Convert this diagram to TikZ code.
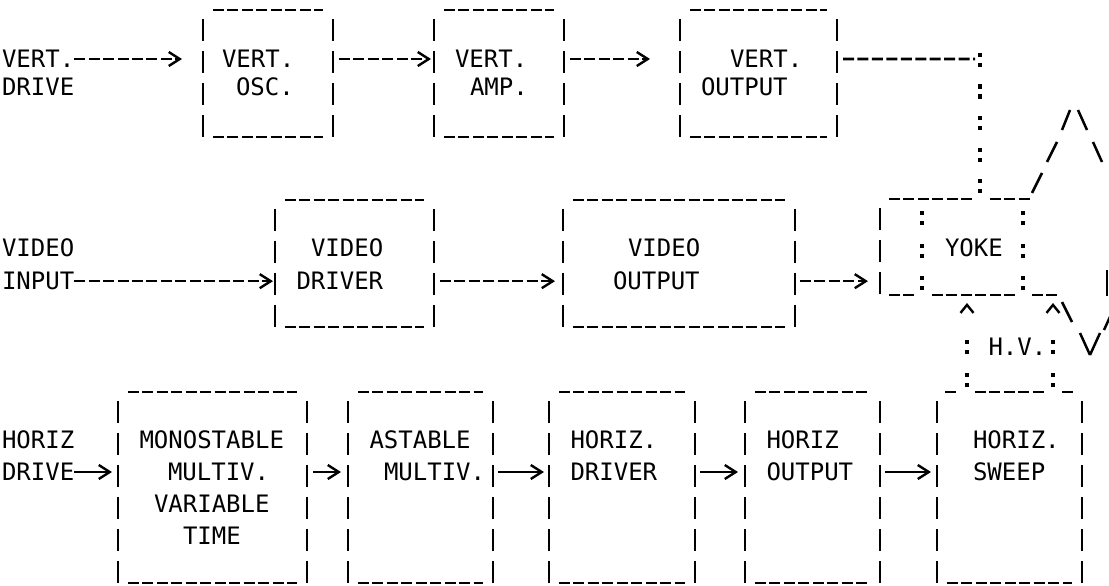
\documentclass[tikz,border=0pt]{standalone}
\usepackage{fontspec}
\newfontfamily\asc{DejaVu Sans Mono}
\usetikzlibrary{arrows.meta,calc}
\tikzset{
  lbl/.style={font=\asc\fontsize{24pt}{24pt}\selectfont, inner sep=0pt, outer sep=0pt, anchor=base west},
  boxn/.style={draw=none, rectangle, inner sep=0pt, outer sep=0pt},
  hline/.style={line width=2.8pt, dash pattern=on 11pt off 3.45pt},
  vline/.style={line width=2.8pt, dash pattern=on 22pt off 10pt},
  tipr/.style={-{Straight Barb[length=11pt,width=14pt,line width=2.4pt]}},
  dconn/.style={line width=2.6pt, dash pattern=on 11pt off 3.45pt, tipr},
  sconn/.style={line width=2.6pt, tipr},
  colonv/.style={line width=4.2pt, dash pattern=on 4.2pt off 5.8pt on 4.2pt off 17.3pt},
  coloni/.style={line width=4.2pt, dash pattern=on 4.2pt off 5.8pt on 4.2pt off 18.3pt},
  hvconn/.style={line width=4.2pt, dash pattern=on 4.2pt off 5.8pt on 4.2pt off 18.8pt on 4.2pt off 5.8pt on 4.2pt off 100pt,
     dash phase=142pt, -{Straight Barb[length=8pt,width=13pt,line width=2.4pt]}},
  slash/.style={line width=2.5pt},
}
\newcommand\mkbox[5]{\node[boxn, minimum width={#3-#2}, minimum height={#5-#4}] (#1) at ({(#2+#3)/2},{(#4+#5)/2}) {};}
\newcommand\sides[1]{%
  \draw[vline] ([yshift=-9pt]#1.north west) -- (#1.south west);
  \draw[vline] ([yshift=-9pt]#1.north east) -- (#1.south east);}
\newcommand\tops[1]{%
  \draw[hline] ([xshift=10pt]#1.north west) -- ([xshift=-10pt]#1.north east);}
\newcommand\bots[1]{%
  \draw[hline] ([xshift=10pt]#1.south west) -- ([xshift=-10pt]#1.south east);}
\begin{document}
\begin{tikzpicture}[x=1pt,y=-1pt]
\useasboundingbox[fill=white] (0,0) rectangle (1109,586);
% ---------- boxes ----------
\mkbox{b1}{203}{333}{10}{137}
\mkbox{b2}{434}{564}{10}{137}
\mkbox{b3}{680}{837}{10}{137}
\mkbox{b4}{275}{434}{200}{327}
\mkbox{b5}{563}{795}{200}{327}
\mkbox{b6}{118}{307}{392}{583}
\mkbox{b7}{348}{493}{392}{583}
\mkbox{b8}{549}{695}{392}{583}
\mkbox{b9}{745}{880}{392}{583}
\mkbox{b10}{937}{1082}{392}{583}
\mkbox{yoke}{880}{1045}{199}{295}
\foreach \b in {b1,b2,b3,b4,b5,b6,b7,b8,b9,b10}{\sides{\b}\bots{\b}}
\foreach \b in {b1,b2,b3,b4,b5,b6,b7,b8,b9}{\tops{\b}}
% top of horiz sweep, broken by the colons
\draw[hline] (945,392) -- (959,392);
\draw[hline] (975,392) -- (1046,392);
\draw[hline] (1062,392) -- (1074,392);
% ---------- yoke ----------
\draw[vline] ([yshift=-9pt]yoke.north west) -- (yoke.south west);
\draw[hline] (889,199) -- (973,199);
\draw[hline] (990,199) -- (1032,199);
\draw[hline] (889,295) -- (916,295);
\draw[hline] (932,295) -- (1016,295);
\draw[hline] (1032,295) -- (1058,295);
\draw[coloni] (922,211) -- (922,291);
\draw[coloni] (1023,211) -- (1023,291);
% ---------- labels ----------
\node[lbl] (vd1) at (2,67.75) {VERT.};
\node[lbl] (vd2) at (2,95.75) {DRIVE};
\node[lbl] (o1) at (222,67.75) {VERT.};
\node[lbl] (o2) at (236,95.75) {OSC.};
\node[lbl] (a1) at (455,67.75) {VERT.};
\node[lbl] (a2) at (470,95.75) {AMP.};
\node[lbl] (p1) at (730,67.75) {VERT.};
\node[lbl] (p2) at (701,95.75) {OUTPUT};
\node[lbl] (vi1) at (2,256.75) {VIDEO};
\node[lbl] (vi2) at (2,289.75) {INPUT};
\node[lbl] (d1) at (311,256.75) {VIDEO};
\node[lbl] (d2) at (296.5,289.75) {DRIVER};
\node[lbl] (q1) at (628,256.75) {VIDEO};
\node[lbl] (q2) at (613,289.75) {OUTPUT};
\node[lbl] (yk) at (945,256.75) {YOKE};
\node[lbl] (hv) at (988.5,355.75) {H.V.};
\node[lbl] (hd1) at (2,448.75) {HORIZ};
\node[lbl] (hd2) at (2,480.75) {DRIVE};
\node[lbl] (m1) at (139.5,448.75) {MONOSTABLE};
\node[lbl] (m2) at (168,480.75) {MULTIV.};
\node[lbl] (m3) at (154,512.75) {VARIABLE};
\node[lbl] (m4) at (183,544.75) {TIME};
\node[lbl] (s1) at (369.5,448.75) {ASTABLE};
\node[lbl] (s2) at (384,480.75) {MULTIV.};
\node[lbl] (h1) at (570.5,448.75) {HORIZ.};
\node[lbl] (h2) at (570.5,480.75) {DRIVER};
\node[lbl] (ho1) at (766.5,448.75) {HORIZ};
\node[lbl] (ho2) at (766.5,480.75) {OUTPUT};
\node[lbl] (w1) at (973,448.75) {HORIZ.};
\node[lbl] (w2) at (973,480.75) {SWEEP};
% ---------- connectors ----------
\coordinate (vc) at (980,59);
\draw[dconn] (vd1.east) -- ($(b1.west |- vd1.east)+(-21,0)$);
\draw[dconn, shorten <=6pt, shorten >=3pt] (b1.east |- vd1.east) -- (b2.west |- vd1.east);
\draw[dconn, shorten <=6pt, shorten >=30pt] (b2.east |- vd1.east) -- (b3.west |- vd1.east);
\draw[line width=2.6pt, dash pattern=on 11pt off 3.45pt, shorten <=6pt, shorten >=5pt] (b3.east |- vd1.east) -- (vc);
\draw[colonv] ($(vc)+(0,-6)$) -- (vc |- yoke.north);
\draw[dconn, shorten >=2pt] (vi2.east) -- (b4.west |- vi2.east);
\draw[dconn, shorten <=6pt, shorten >=8pt] (b4.east |- vi2.east) -- (b5.west |- vi2.east);
\draw[dconn, shorten <=5pt, shorten >=12pt] (b5.east |- vi2.east) -- (yoke.west |- vi2.east);
\draw[sconn, shorten >=6pt] (hd2.east) -- (b6.west |- hd2.east);
\draw[sconn, shorten <=6pt, shorten >=7pt] (b6.east |- hd2.east) -- (b7.west |- hd2.east);
\draw[sconn, shorten <=5pt, shorten >=5pt] (b7.east |- hd2.east) -- (b8.west |- hd2.east);
\draw[sconn, shorten <=5pt, shorten >=7pt] (b8.east |- hd2.east) -- (b9.west |- hd2.east);
\draw[sconn, shorten <=5pt, shorten >=6pt] (b9.east |- hd2.east) -- (b10.west |- hd2.east);
\coordinate (hva) at ($(b10.north west)+(30,0)$);
\coordinate (hvb) at ($(b10.north west)+(116,0)$);
\draw[hvconn, shorten >=8pt] (hva) -- (hva |- yoke.south);
\draw[hvconn, shorten >=8pt] (hvb) -- (hvb |- yoke.south);
% ---------- picture tube outline ----------
\draw[slash] (1062,130) -- (1070,110);
\draw[slash] (1078,110) -- (1087,130);
\draw[slash] (1047,162) -- (1057,142);
\draw[slash] (1093,142) -- (1102,162);
\draw[slash] (1032,193) -- (1042,173);
\draw[slash] (1062,302) -- (1072,322);
\draw[slash] (1080,333) -- (1090,355);
\draw[slash] (1090,355) -- (1100,333);
\draw[slash] (1104,330) -- (1114,308);
\draw[line width=2.8pt] (1107,270) -- (1107,296);
\end{tikzpicture}
\end{document}
